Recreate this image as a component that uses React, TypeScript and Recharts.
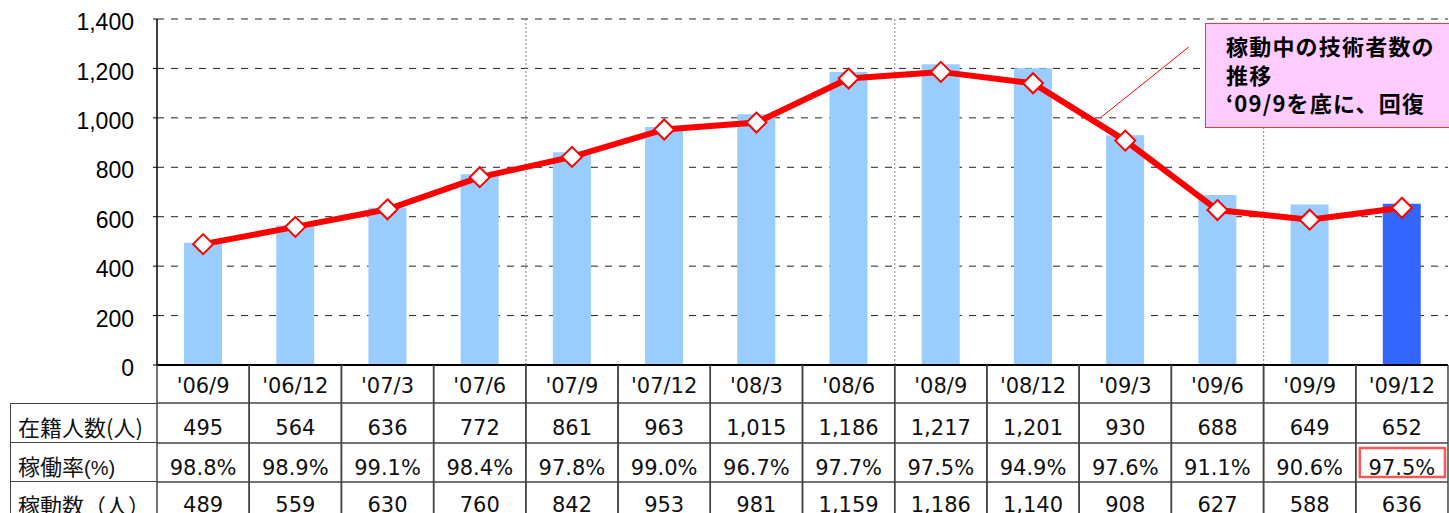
import {
  Bar,
  CartesianGrid,
  Cell,
  ComposedChart,
  Line,
  ReferenceLine,
  XAxis,
  YAxis,
} from "recharts";

const categories = ["'06/9", "'06/12", "'07/3", "'07/6", "'07/9", "'07/12", "'08/3", "'08/6", "'08/9", "'08/12", "'09/3", "'09/6", "'09/9", "'09/12"];
const enrolled = [495, 564, 636, 772, 861, 963, 1015, 1186, 1217, 1201, 930, 688, 649, 652];
const rates = [98.8, 98.9, 99.1, 98.4, 97.8, 99.0, 96.7, 97.7, 97.5, 94.9, 97.6, 91.1, 90.6, 97.5];
const working = [489, 559, 630, 760, 842, 953, 981, 1159, 1186, 1140, 908, 627, 588, 636];
const yTicks = [0, 200, 400, 600, 800, 1000, 1200, 1400];
const yearSeparators = [4, 8, 12];
const calloutLines = ["稼動中の技術者数の", "推移", "‘09/9を底に、回復"];

const data = categories.map((c, i) => ({
  x: i + 0.5,
  label: c,
  enrolled: enrolled[i],
  working: working[i],
}));

const fmt = (v: number) => v.toLocaleString("en-US");
const COL = 92.2;
const BORDER = "#444";
const NUM_FONT = "'DejaVu Sans', sans-serif";
const JP_FONT = "'Noto Sans CJK JP', sans-serif";

function YTick(props: any) {
  const { x, y, payload } = props;
  return (
    <text x={x} y={y + 3} dy="0.355em" textAnchor="end" fontSize={23} fontFamily="'Liberation Sans', Arial, sans-serif" fill="#000">
      {fmt(payload.value)}
    </text>
  );
}

// each x tick draws one column of the data table under the plot
function TableColumn(props: any) {
  const { x, y, payload } = props;
  const i = Math.round(payload.value - 0.5);
  const l = x - COL / 2;
  const rows = [0, 38, 78, 117, 156];
  const texts = [categories[i], fmt(enrolled[i]), rates[i].toFixed(1) + "%", fmt(working[i])];
  const baselines = [28, 70, 110, 147];
  return (
    <g>
      <line x1={l} x2={l} y1={y} y2={y + rows[4]} stroke={BORDER} strokeWidth={1.5} />
      <line x1={l + COL} x2={l + COL} y1={y} y2={y + rows[4]} stroke={BORDER} strokeWidth={1.5} />
      {rows.slice(1).map((r) => (
        <line key={r} x1={l} x2={l + COL} y1={y + r} y2={y + r} stroke={BORDER} strokeWidth={1.5} />
      ))}
      {texts.map((t, k) => (
        <text key={k} x={x} y={y + baselines[k]} textAnchor="middle" fontSize={21} fontFamily={NUM_FONT} fill="#111">
          {t}
        </text>
      ))}
      {i === categories.length - 1 && (
        <rect x={l + 4} y={y + 83} width={COL - 7} height={29} fill="none" stroke="#ff5555" strokeWidth={2.5} />
      )}
    </g>
  );
}

function Diamond(props: any) {
  const { cx, cy } = props;
  if (cx == null || cy == null) return null;
  const r = 10;
  return (
    <polygon
      points={`${cx},${cy - r} ${cx + r},${cy} ${cx},${cy + r} ${cx - r},${cy}`}
      fill="#fff"
      stroke="#ff0000"
      strokeWidth={2}
    />
  );
}

const rowLabels = [
  { top: 403, node: <>在籍人数(人)</> },
  { top: 443, node: <>稼働率<span style={{ fontSize: 20, fontFamily: "'Liberation Sans', sans-serif" }}>(%)</span></> },
  { top: 482, node: <>稼動数（人）</> },
];

export default function App() {
  return (
    <div style={{ position: "absolute", left: 0, top: 0, width: 1449, height: 513, overflow: "hidden", background: "#fff" }}>
      <ComposedChart width={1449} height={513} data={data} margin={{ top: 19, right: 1, bottom: 0, left: 0 }}>
        <CartesianGrid horizontal vertical={false} stroke="#222" strokeDasharray="7 7" />
        <XAxis
          type="number"
          dataKey="x"
          domain={[0, categories.length]}
          ticks={data.map((d) => d.x)}
          interval={0}
          height={148}
          tickSize={0}
          tickMargin={0}
          tickLine={false}
          axisLine={{ stroke: "#000", strokeWidth: 2 }}
          tick={TableColumn}
        />
        <YAxis
          width={157}
          domain={[0, 1400]}
          ticks={yTicks}
          interval={0}
          tickSize={4}
          tickMargin={19}
          axisLine={{ stroke: "#000", strokeWidth: 1.5 }}
          tickLine={{ stroke: "#000" }}
          tick={YTick}
        />
        {yearSeparators.map((s) => (
          <ReferenceLine key={s} x={s} stroke="#999" strokeDasharray="2 2" strokeWidth={1.2} />
        ))}
        <Bar dataKey="enrolled" barSize={38} isAnimationActive={false}>
          {data.map((d, i) => (
            <Cell key={d.label} fill={i === data.length - 1 ? "#3366ff" : "#99ccff"} />
          ))}
        </Bar>
        <ReferenceLine
          segment={[{ x: 10.23, y: 1000 }, { x: 11.19, y: 1287 }]}
          stroke="#ff0000"
          strokeWidth={1}
          ifOverflow="visible"
        />
        <Line
          type="linear"
          dataKey="working"
          stroke="#ff0000"
          strokeWidth={6}
          dot={<Diamond />}
          activeDot={false}
          isAnimationActive={false}
        />
      </ComposedChart>

      {rowLabels.map((r, k) => (
        <div
          key={k}
          style={{
            position: "absolute",
            left: 10,
            top: r.top,
            width: 147,
            height: k === 1 ? 39 : 40,
            borderLeft: `1.5px solid ${BORDER}`,
            borderBottom: `1.5px solid ${BORDER}`,
            borderTop: k === 0 ? `1.5px solid ${BORDER}` : "none",
            boxSizing: "border-box",
            fontFamily: JP_FONT,
            fontSize: 22,
            lineHeight: "40px",
            paddingLeft: 7,
            paddingTop: 2,
            color: "#111",
            whiteSpace: "nowrap",
          }}
        >
          {r.node}
        </div>
      ))}

      <div
        style={{
          position: "absolute",
          left: 1205,
          top: 23,
          width: 270,
          height: 105,
          background: "#ffccff",
          border: "1.5px solid #ff3333",
          boxSizing: "border-box",
          paddingLeft: 20,
          paddingTop: 7,
          fontFamily: JP_FONT,
          fontWeight: 700,
          fontSize: 22,
          letterSpacing: 1.2,
          lineHeight: "28.5px",
          color: "#000",
        }}
      >
        {calloutLines.map((t) => (
          <div key={t} style={{ whiteSpace: "nowrap" }}>{t}</div>
        ))}
      </div>
    </div>
  );
}
